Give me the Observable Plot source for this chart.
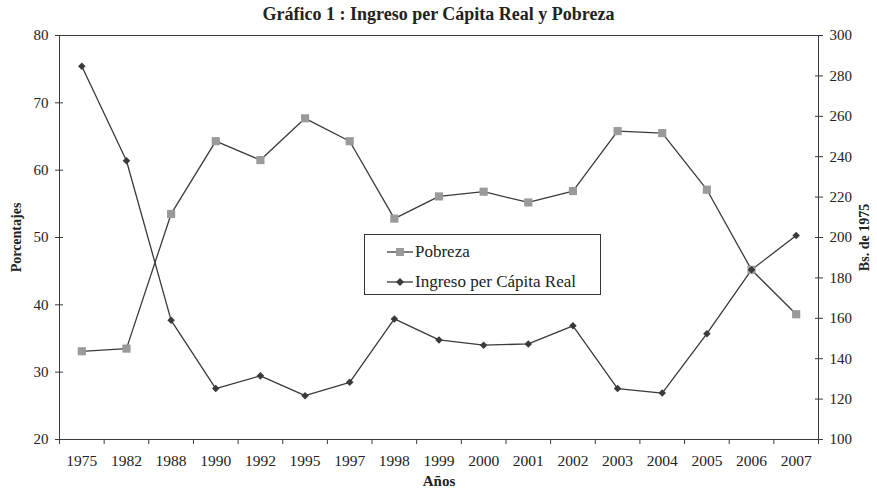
<!DOCTYPE html>
<html><head><meta charset="utf-8">
<script src="https://cdn.jsdelivr.net/npm/d3@7"></script>
<script src="https://cdn.jsdelivr.net/npm/@observablehq/plot@0.6"></script>
<style>
body{margin:0;background:#fff;}
#wrap{position:relative;width:877px;height:495px;font-family:"Liberation Serif","Times New Roman",serif;color:#222;}
#title{position:absolute;top:3px;left:0;width:877px;text-align:center;font-weight:bold;font-size:18px;line-height:22px;}
#chart{position:absolute;left:0;top:0;}
#legend{position:absolute;left:364px;top:234px;width:237px;height:61px;border:1px solid #333;box-sizing:border-box;background:#fff;font-size:17px;}
.row{position:absolute;left:22px;display:flex;align-items:center;height:22px;}
.row svg{margin-right:2px;}
</style></head>
<body><div id="wrap"><div id="chart"></div><div id="title">Gráfico 1 : Ingreso per Cápita Real y Pobreza</div><div id="legend"></div></div>
<script>
const years = ["1975","1982","1988","1990","1992","1995","1997","1998","1999","2000","2001","2002","2003","2004","2005","2006","2007"];
const pobreza = [33.1, 33.5, 53.5, 64.3, 61.5, 67.7, 64.3, 52.8, 56.1, 56.8, 55.2, 56.9, 65.8, 65.5, 57.1, 45.2, 38.6];
const ingreso = [284.8, 238.0, 159.0, 125.2, 131.5, 121.7, 128.3, 159.7, 149.3, 146.7, 147.3, 156.3, 125.2, 123.0, 152.4, 184.0, 201.0];
const leftTicks = [20, 30, 40, 50, 60, 70, 80];
const rightTicks = [100, 120, 140, 160, 180, 200, 220, 240, 260, 280, 300];
const seriesNames = ["Pobreza", "Ingreso per Cápita Real"];

const L0 = 20, L1 = 80, R0 = 100, R1 = 300;
const toLeft = v => L0 + (v - R0) * (L1 - L0) / (R1 - R0);
const toRight = v => Math.round(R0 + (v - L0) * (R1 - R0) / (L1 - L0));
const idx = years.map((_, i) => i);
const bounds = d3.range(years.length + 1).map(i => i - 0.5);
const dataP = years.map((y, i) => ({i, v: pobreza[i]}));
const dataI = years.map((y, i) => ({i, v: toLeft(ingreso[i])}));
const ink = "#3a3a3a";
const grey = "#9a9a9a";

const chart = Plot.plot({
  width: 877, height: 495,
  marginTop: 35, marginBottom: 56, marginLeft: 59, marginRight: 59,
  style: {fontFamily: '"Liberation Serif", "Times New Roman", serif', fontSize: "15px", color: "#222", background: "transparent"},
  x: {type: "linear", domain: [-0.5, years.length - 0.5], axis: null},
  y: {domain: [L0, L1], axis: null},
  marks: [
    Plot.ruleY([L0, L1], {stroke: ink}),
    Plot.ruleX([-0.5, years.length - 0.5], {stroke: ink}),
    Plot.axisX(bounds, {anchor: "bottom", tickSize: 5, tickFormat: () => "", label: null, stroke: ink}),
    Plot.axisX(idx, {anchor: "bottom", tickSize: 0, tickPadding: 15, tickFormat: i => years[i], label: null, fontSize: 15.5}),
    Plot.axisY(leftTicks, {anchor: "left", tickSize: 8, dx: 4, tickPadding: 7, label: null, stroke: ink, fontSize: 15, tickFormat: d => d}),
    Plot.axisY(rightTicks.map(toLeft), {anchor: "right", tickSize: 8, dx: -4, tickPadding: 7, label: null, stroke: ink, fontSize: 15, tickFormat: toRight}),
    Plot.text(["Años"], {frameAnchor: "bottom", dy: 42, lineAnchor: "middle", textAnchor: "middle", fontWeight: "bold", fontSize: 15}),
    Plot.text(["Porcentajes"], {frameAnchor: "left", dx: -43, rotate: -90, lineAnchor: "middle", textAnchor: "middle", fontWeight: "bold", fontSize: 14}),
    Plot.text(["Bs. de 1975"], {frameAnchor: "right", dx: 46, rotate: -90, lineAnchor: "middle", textAnchor: "middle", fontWeight: "bold", fontSize: 14}),
    Plot.line(dataP, {x: "i", y: "v", stroke: ink, strokeWidth: 1.3}),
    Plot.line(dataI, {x: "i", y: "v", stroke: ink, strokeWidth: 1.3}),
    Plot.dot(dataP, {x: "i", y: "v", symbol: "square", r: 4.6, fill: grey, stroke: "none"}),
    Plot.dot(dataI, {x: "i", y: "v", symbol: "diamond2", r: 3.4, fill: ink, stroke: "none"})
  ]
});
document.getElementById("chart").appendChild(chart);

const leg = document.getElementById("legend");
const sym = [
  `<rect x="9" y="1" width="8" height="8" fill="${grey}"/>`,
  `<path d="M13,1 L17,5 L13,9 L9,5 Z" fill="${ink}"/>`
];
seriesNames.forEach((name, k) => {
  const row = document.createElement("div");
  row.className = "row";
  row.style.top = (k === 0 ? 6 : 36) + "px";
  row.innerHTML = `<svg width="26" height="10"><line x1="0" y1="5" x2="26" y2="5" stroke="${ink}" stroke-width="1.3"/>${sym[k]}</svg><span>${name}</span>`;
  leg.appendChild(row);
});
</script>
</body></html>
